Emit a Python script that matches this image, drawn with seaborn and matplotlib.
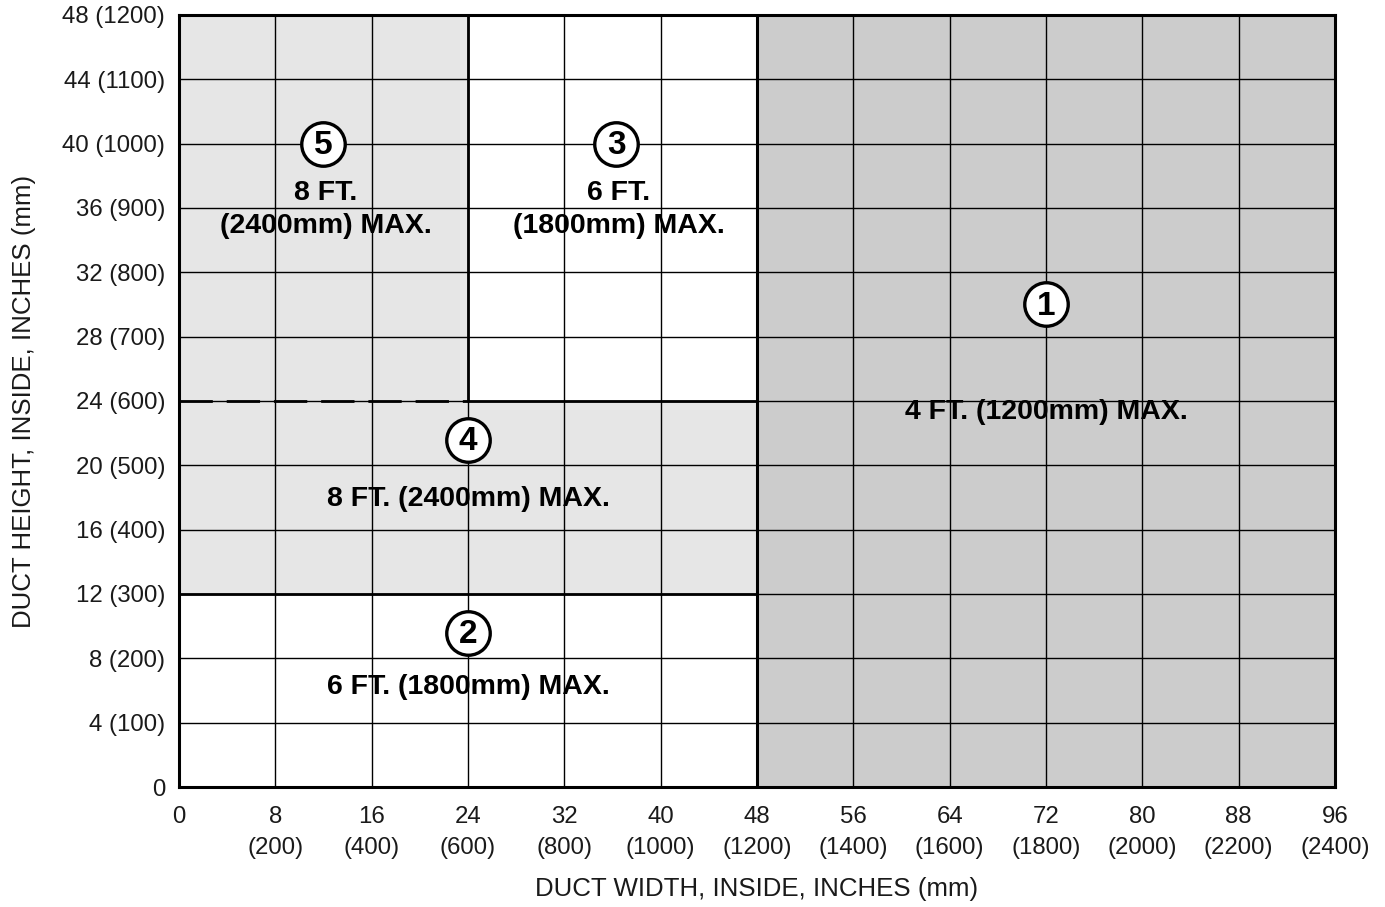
import matplotlib
matplotlib.use("Agg")
import matplotlib.pyplot as plt
import seaborn as sns
import numpy as np

# Duct size zones (inches): x range, y range, fill
zone_ids = [1, 2, 3, 4, 5]
zone_x0 = [48, 0, 24, 0, 0]
zone_x1 = [96, 48, 48, 48, 24]
zone_y0 = [0, 0, 24, 12, 24]
zone_y1 = [48, 12, 48, 24, 48]
zone_shade = ["dark", "none", "none", "light", "light"]
zone_labels = [
    "4 FT. (1200mm) MAX.",
    "6 FT. (1800mm) MAX.",
    "6 FT.\n(1800mm) MAX.",
    "8 FT. (2400mm) MAX.",
    "8 FT.\n(2400mm) MAX.",
]
# badge and label anchor points (inches)
badge_x = [72, 24, 36.3, 24, 12]
badge_y = [30, 9.6, 40, 21.6, 40]
label_x = [72, 24, 36.5, 24, 12.2]
label_y = [23.3, 6.2, 35.9, 17.9, 35.9]

x_ticks = [0, 8, 16, 24, 32, 40, 48, 56, 64, 72, 80, 88, 96]
x_ticks_mm = [None, 200, 400, 600, 800, 1000, 1200, 1400, 1600, 1800, 2000, 2200, 2400]
y_ticks = [0, 4, 8, 12, 16, 20, 24, 28, 32, 36, 40, 44, 48]
y_ticks_mm = [None, 100, 200, 300, 400, 500, 600, 700, 800, 900, 1000, 1100, 1200]

sns.set_theme(style="white")
plt.rcParams["font.family"] = ["Liberation Sans", "DejaVu Sans"]
plt.rcParams["text.color"] = "black"

shade_colors = {"dark": "#cccccc", "light": "#e6e6e6", "none": "#ffffff"}

fig = plt.figure(figsize=(13.85, 9.07), dpi=100)
ax = fig.add_axes([0.1292, 0.1323, 0.8347, 0.8512])
ax.set_xlim(0, 96)
ax.set_ylim(0, 48)

# shaded zones
for x0, x1, y0, y1, sh in zip(zone_x0, zone_x1, zone_y0, zone_y1, zone_shade):
    ax.fill_between([x0, x1], [y0, y0], [y1, y1], color=shade_colors[sh],
                    linewidth=0, zorder=0)

# grid
for xv in x_ticks[1:-1]:
    ax.axvline(xv, color="black", lw=1.0, zorder=1)
for yv in y_ticks[1:-1]:
    ax.axhline(yv, color="black", lw=1.0, zorder=1)

# zone borders
ax.plot([48, 48], [0, 48], color="black", lw=2.2, zorder=2)
ax.plot([0, 48], [12, 12], color="black", lw=2.0, zorder=2)
ax.plot([24, 48], [24, 24], color="black", lw=2.0, zorder=2)
ax.plot([24, 24], [24, 48], color="black", lw=2.0, zorder=2)
ax.plot([0, 24], [24, 24], color="black", lw=2.0, ls=(0, (12, 5)), zorder=2)

# numbered badges and limits
for zid, bx, by, lx, ly, txt in zip(zone_ids, badge_x, badge_y, label_x, label_y, zone_labels):
    ax.scatter([bx], [by], s=980, facecolor="white", edgecolor="black",
               linewidth=2.4, zorder=4)
    ax.text(bx, by - 0.1, str(zid), ha="center", va="center", fontsize=24,
            fontweight="bold", zorder=5)
    ax.text(lx, ly, txt, ha="center", va="center", fontsize=20.5,
            fontweight="bold", linespacing=1.35, zorder=5)

# ticks
ax.set_xticks(x_ticks)
ax.set_xticklabels([f"{v}" if m is None else f"{v}\n({m})" for v, m in zip(x_ticks, x_ticks_mm)],
                   fontsize=17.3, linespacing=1.5)
ax.set_yticks(y_ticks)
ax.set_yticklabels([f"{v}" if m is None else f"{v} ({m})" for v, m in zip(y_ticks, y_ticks_mm)],
                   fontsize=17.3)
ax.tick_params(axis="both", length=0, colors="#1a1a1a")
ax.tick_params(axis="x", pad=14)
ax.tick_params(axis="y", pad=10)
for lab in ax.get_xticklabels():
    lab.set_verticalalignment("top")

for sp in ax.spines.values():
    sp.set_visible(True)
    sp.set_color("black")
    sp.set_linewidth(2.2)
    sp.set_zorder(6)

ax.set_xlabel("DUCT WIDTH, INSIDE, INCHES (mm)", fontsize=18.6, labelpad=13, color="#1a1a1a")
ax.set_ylabel("DUCT HEIGHT, INSIDE, INCHES (mm)", fontsize=18.6, labelpad=19, color="#1a1a1a")

fig.savefig("out.png", dpi=100)
